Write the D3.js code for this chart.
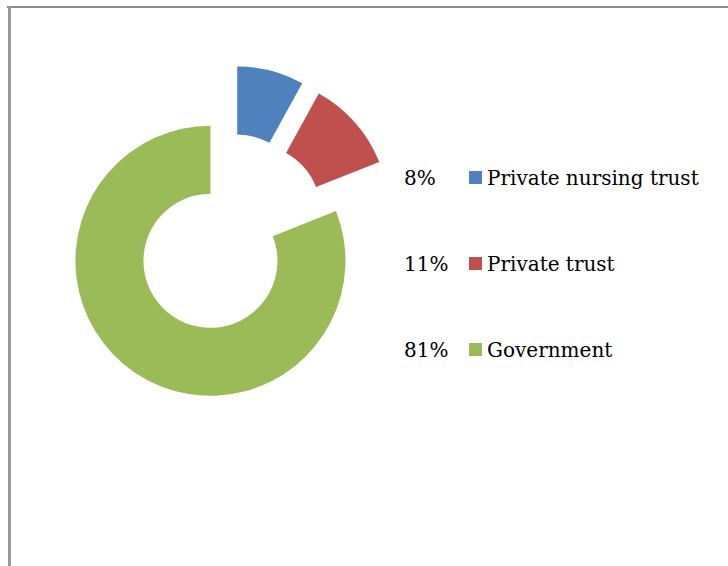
<!DOCTYPE html>
<html>
<head>
<meta charset="utf-8">
<script src="https://cdn.jsdelivr.net/npm/d3@7.9.0/dist/d3.min.js"></script>
<style>
  body { margin: 0; background: #fff; }
  svg { display: block; }
  text { font-family: "DejaVu Serif", serif; font-size: 20px; fill: #000; }
</style>
</head>
<body>
<svg width="728" height="566"></svg>
<script>
const categories = ['Private nursing trust', 'Private trust', 'Government'];
const shares = [8, 11, 81];
const percentLabels = ['8%', '11%', '81%'];
const sliceColors = ['#4F81BD', '#C0504D', '#9BBB59'];

const svg = d3.select('svg');

// frame of the chart area (only top and left edges visible)
svg.append('line')
  .attr('x1', 7).attr('y1', 7).attr('x2', 728).attr('y2', 7)
  .attr('stroke', '#8c8c8c').attr('stroke-width', 2);
svg.append('line')
  .attr('x1', 9.5).attr('y1', 6).attr('x2', 9.5).attr('y2', 566)
  .attr('stroke', '#999').attr('stroke-width', 3);

const cx = 229, cy = 233.5;
const outerR = 135, innerR = 67, explode = 33;

let pie = d3.pie().sort(null).value((d) => d);
let arcGen = d3.arc().innerRadius(innerR).outerRadius(outerR);
let arcData = pie(shares);

const g = svg.append('g').attr('transform', `translate(${cx},${cy})`);

arcData.forEach((d, i) => {
  let mid = (d.startAngle + d.endAngle) / 2;
  let dx = Math.sin(mid) * explode;
  let dy = -Math.cos(mid) * explode;
  g.append('path')
    .attr('d', arcGen(d))
    .attr('transform', `translate(${dx},${dy})`)
    .attr('fill', sliceColors[i]);
});

// legend with percentages in front
let rowY = d3.scalePoint().domain(categories).range([177.5, 349.5]);

categories.forEach((name, i) => {
  let y = rowY(name);
  svg.append('text')
    .attr('x', 404).attr('y', y + 7)
    .text(percentLabels[i]);
  svg.append('rect')
    .attr('x', 469).attr('y', y - 6.5)
    .attr('width', 13).attr('height', 13)
    .attr('fill', sliceColors[i]);
  svg.append('text')
    .attr('x', 487).attr('y', y + 7)
    .text(name);
});
</script>
</body>
</html>
